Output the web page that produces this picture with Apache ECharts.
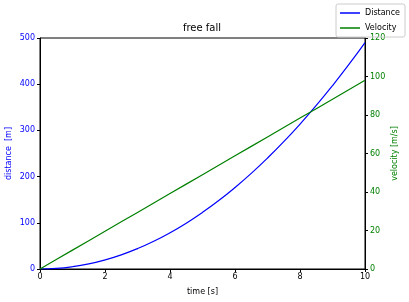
<!DOCTYPE html>
<html><head><meta charset="utf-8">
<script src="https://cdn.jsdelivr.net/npm/echarts@6/dist/echarts.min.js"></script>
<style>html,body{margin:0;padding:0;background:#fff}#c{width:409px;height:302px}</style>
</head><body><div id="c"></div>
<script>
const times = [0,0.5,1,1.5,2,2.5,3,3.5,4,4.5,5,5.5,6,6.5,7,7.5,8,8.5,9,9.5,10];
const distance = [0,1.2,4.9,11,19.6,30.6,44.1,60,78.4,99.2,122.5,148.2,176.4,207,240.1,275.6,313.6,354,396.9,442.2,490];
const velocity = [0,4.9,9.8,14.7,19.6,24.5,29.4,34.3,39.2,44.1,49,53.9,58.8,63.7,68.6,73.5,78.4,83.3,88.2,93.1,98];
const font = 'DejaVu Sans';
const chart = echarts.init(document.getElementById('c'), null, {renderer:'canvas'});
chart.setOption({
  animation:false,
  textStyle:{fontFamily:font},
  title:{text:'free fall', left:202, top:23, textAlign:'center', padding:0, textStyle:{fontSize:10, fontWeight:'normal', color:'#000', fontFamily:font}},
  legend:{orient:'vertical', right:4, top:4, itemWidth:20, itemHeight:1.5, itemGap:7, padding:[5,5,5,4],
    borderColor:'#ccc', borderWidth:1, borderRadius:2,
    textStyle:{fontSize:8, color:'#000', fontFamily:font},
    data:[{name:'Distance', icon:'rect'},{name:'Velocity', icon:'rect'}]},
  grid:{left:40, right:44, top:38, bottom:33, show:true, borderColor:'#000', borderWidth:1, containLabel:false, outerBoundsMode:'none'},
  xAxis:{type:'value', min:0, max:10, interval:2, name:'time [s]', nameLocation:'middle', nameGap:19, nameMoveOverlap:false,
    nameTextStyle:{fontSize:8, color:'#000'},
    axisLine:{lineStyle:{color:'#000'}}, axisTick:{length:3, lineStyle:{color:'#000'}},
    axisLabel:{fontSize:8, color:'#000', margin:4}, splitLine:{show:false}},
  yAxis:[
    {type:'value', min:0, max:500, interval:100, name:'distance  [m]', nameLocation:'middle', nameGap:27, nameMoveOverlap:false,
      nameTextStyle:{fontSize:8, color:'#0000ff'},
      axisLine:{show:true, lineStyle:{color:'#000'}}, axisTick:{show:true, length:3, lineStyle:{color:'#000'}},
      axisLabel:{fontSize:8, color:'#0000ff', margin:5}, splitLine:{show:false}},
    {type:'value', min:0, max:120, interval:20, name:'velocity [m/s]', nameLocation:'middle', nameGap:26, nameMoveOverlap:false, position:'right',
      nameTextStyle:{fontSize:8, color:'#008000'},
      axisLine:{show:true, lineStyle:{color:'#000'}}, axisTick:{show:true, length:3, lineStyle:{color:'#000'}},
      axisLabel:{fontSize:8, color:'#008000', margin:5}, splitLine:{show:false}}
  ],
  series:[
    {name:'Distance', type:'line', yAxisIndex:0, showSymbol:false, smooth:true, color:'#0000ff', lineStyle:{width:1.2},
      data: times.map((t,i)=>[t, distance[i]])},
    {name:'Velocity', type:'line', yAxisIndex:1, showSymbol:false, color:'#008000', lineStyle:{width:1.2},
      data: times.map((t,i)=>[t, velocity[i]])}
  ]
});
</script></body></html>
